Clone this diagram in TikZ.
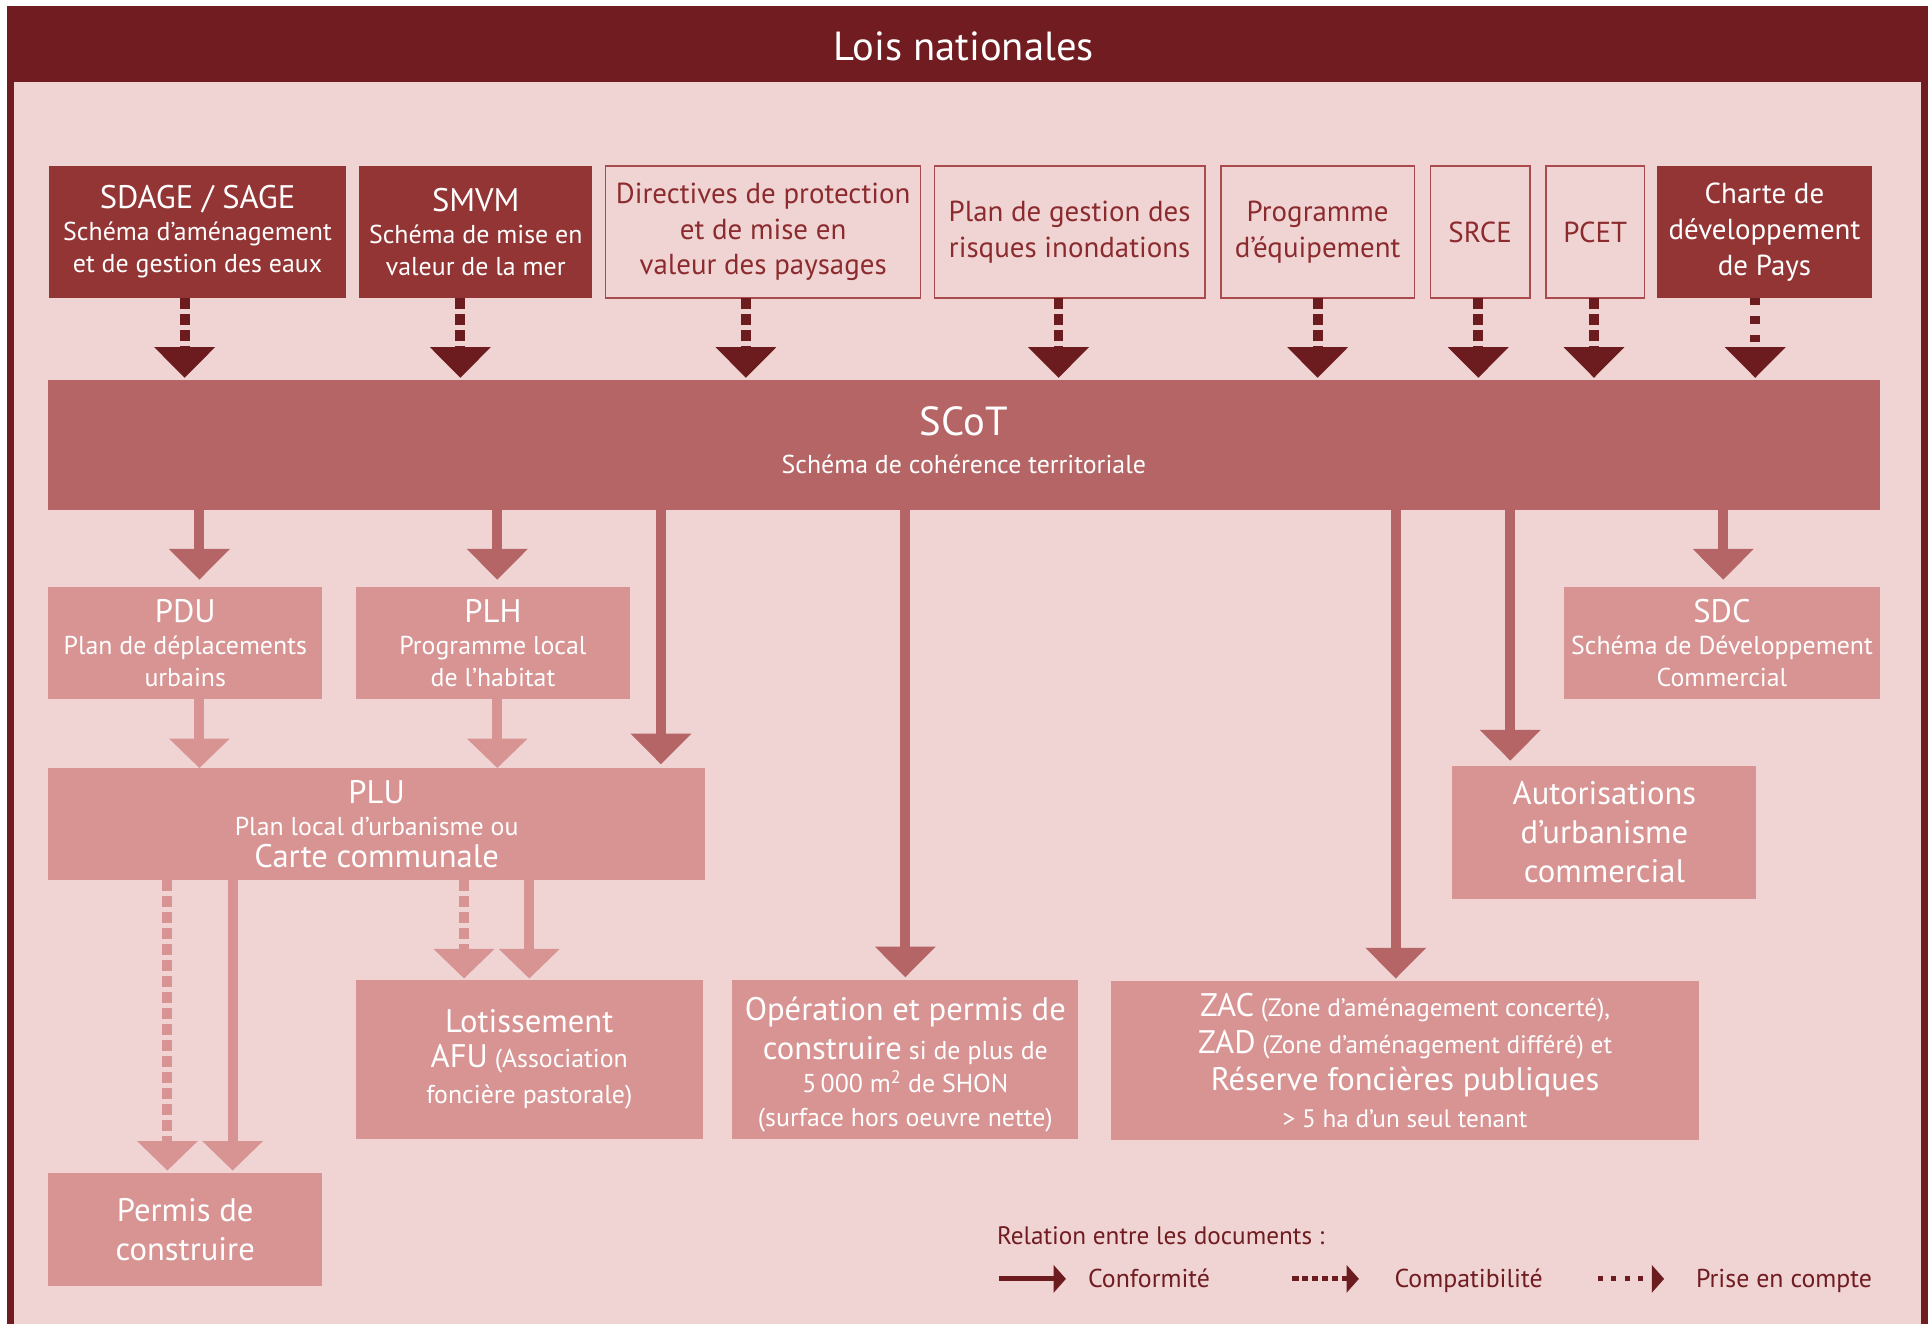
\documentclass[tikz,border=0pt]{standalone}
\usepackage{fontspec}
\setmainfont{PT Sans}
\usetikzlibrary{arrows.meta}

\definecolor{cframe}{HTML}{701C20}
\definecolor{cdark}{HTML}{943535}
\definecolor{carrow}{HTML}{6C1B1E}
\definecolor{cscot}{HTML}{B56565}
\definecolor{clight}{HTML}{D89393}
\definecolor{cbg}{HTML}{F0D4D4}
\definecolor{cline}{HTML}{A84B4C}
\definecolor{ctext}{HTML}{8C2B2E}

\newcommand{\fs}[2]{\fontsize{#1}{#2}\selectfont}
\newcommand{\ttl}{\fs{26.5}{28}}

\tikzset{
  darkbox/.style={fill=cdark,text=white,font=\fs{21}{26}},
  linebox/.style={draw=cline,line width=1.2pt,fill=cbg,text=ctext,font=\fs{23.5}{29}},
  scotbox/.style={fill=cscot,text=white,font=\fs{21}{26}},
  lightbox/.style={fill=clight,text=white,font=\fs{21}{26}},
  legtxt/.style={text=cframe,font=\fs{21}{24},anchor=base west},
  compat/.style={draw=carrow,line width=8pt,dash pattern=on 9pt off 4pt,
    -{Triangle[width=48pt,length=25pt]},shorten >=2pt},
  prise/.style={draw=carrow,line width=8pt,dash pattern=on 6pt off 9pt,
    -{Triangle[width=48pt,length=25pt]},shorten >=2pt},
  confS/.style={draw=cscot,line width=8pt,-{Triangle[width=48pt,length=25pt]}},
  confL/.style={draw=clight,line width=8pt,-{Triangle[width=48pt,length=24pt]}},
  compL/.style={draw=clight,line width=8pt,dash pattern=on 9pt off 4pt,
    -{Triangle[width=48pt,length=24pt]}},
  legconf/.style={draw=carrow,line width=4pt,-{Triangle[width=22pt,length=10pt]}},
  legcompat/.style={draw=carrow,line width=4pt,dash pattern=on 5pt off 3pt,
    -{Triangle[width=22pt,length=10pt]}},
  legprise/.style={draw=carrow,line width=4pt,dash pattern=on 4pt off 7pt,
    -{Triangle[width=22pt,length=10pt]}}
}

\begin{document}
\begin{tikzpicture}[x=1pt,y=1pt,
  every node/.style={inner sep=0pt,outer sep=0pt,align=center}]
\useasboundingbox (0,0) rectangle (1568,1076);
% frame and header
\fill[cframe] (6,0) rectangle (1566,1071);
\fill[cbg] (11,0) rectangle (1561,1009);
\node[text=white,font=\fs{33}{36},anchor=base] (lois) at (783,1027) {Lois nationales};

% top row
\node[darkbox,minimum width=241,minimum height=107] (sdage) at (160.5,887.5)
  {{\ttl SDAGE / SAGE}\\Schéma d’aménagement\\et de gestion des eaux};
\node[darkbox,minimum width=189,minimum height=107] (smvm) at (386.5,887.5)
  {{\ttl SMVM}\\Schéma de mise en\\valeur de la mer};
\node[linebox,minimum width=256,minimum height=107] (dir) at (620,887.5)
  {Directives de protection\\et de mise en\\valeur des paysages};
\node[linebox,minimum width=220,minimum height=107] (pgri) at (869,887.5)
  {Plan de gestion des\\risques inondations};
\node[linebox,minimum width=157,minimum height=107] (prog) at (1070.5,887.5)
  {Programme\\d’équipement};
\node[linebox,minimum width=81,minimum height=107] (srce) at (1202.5,887.5) {SRCE};
\node[linebox,minimum width=80,minimum height=107] (pcet) at (1296,887.5) {PCET};
\node[darkbox,font=\fs{23.5}{29},minimum width=175,minimum height=107] (charte) at (1433.5,887.5)
  {Charte de\\développement\\de Pays};

% SCoT
\node[scotbox,minimum width=1488,minimum height=105] (scot) at (783,714.5)
  {{\fs{33}{34}SCoT}\\[5pt]Schéma de cohérence territoriale\rule[-8pt]{0pt}{8pt}};

% second row
\node[lightbox,minimum width=223,minimum height=91] (pdu) at (150.5,553.5)
  {{\ttl PDU}\\Plan de déplacements\\urbains};
\node[lightbox,minimum width=223,minimum height=91] (plh) at (400.5,553.5)
  {{\ttl PLH}\\Programme local\\de l’habitat};
\node[lightbox,minimum width=256,minimum height=91] (sdc) at (1399,553.5)
  {{\ttl SDC}\\Schéma de Développement\\Commercial};
\node[lightbox,minimum width=534,minimum height=91] (plu) at (306,406.5)
  {{\ttl PLU}\\Plan local d’urbanisme ou\\{\ttl Carte communale}};
\node[lightbox,font=\fs{26.5}{32},minimum width=247,minimum height=108] (autor) at (1303.5,400)
  {Autorisations\\d’urbanisme\\commercial};

% third row
\node[lightbox,font=\fs{21}{29},minimum width=282,minimum height=129] (lotis) at (430,215.5)
  {{\ttl Lotissement}\\{\ttl AFU} (Association\\foncière pastorale)};
\node[lightbox,font=\fs{21}{27.5},minimum width=281,minimum height=129] (oper) at (735.5,215.5)
  {\rule{0pt}{28pt}{\ttl Opération et permis de}\\[4pt]{\ttl construire} si de plus de\\5\,000 m\textsuperscript{2} de SHON\\(surface hors oeuvre nette)};
\node[lightbox,font=\fs{20.5}{30},minimum width=477,minimum height=129] (zac) at (1141.5,214.5)
  {{\ttl ZAC} (Zone d’aménagement concerté),\\{\ttl ZAD} (Zone d’aménagement différé) et\\{\ttl Réserve foncières publiques}\\> 5 ha d’un seul tenant};
\node[lightbox,font=\fs{26.5}{32},minimum width=223,minimum height=92] (permis) at (150.5,77)
  {Permis de\\construire};

% arrows top row -> SCoT
\draw[compat] ([xshift=-10.5pt]sdage.south) -- ([xshift=-10.5pt]sdage.south |- scot.north);
\draw[compat] ([xshift=-12.5pt]smvm.south) -- ([xshift=-12.5pt]smvm.south |- scot.north);
\draw[compat] ([xshift=-14pt]dir.south) -- ([xshift=-14pt]dir.south |- scot.north);
\draw[compat] ([xshift=-9pt]pgri.south) -- ([xshift=-9pt]pgri.south |- scot.north);
\draw[compat] (prog.south) -- (prog.south |- scot.north);
\draw[compat] ([xshift=-1.5pt]srce.south) -- ([xshift=-1.5pt]srce.south |- scot.north);
\draw[compat] ([xshift=-1pt]pcet.south) -- ([xshift=-1pt]pcet.south |- scot.north);
\draw[prise] ([xshift=-7.5pt]charte.south) -- ([xshift=-7.5pt]charte.south |- scot.north);

% arrows SCoT -> documents
\draw[confS,shorten >=6pt] ([xshift=11.5pt]pdu.north |- scot.south) -- ([xshift=11.5pt]pdu.north);
\draw[confS,shorten >=6pt] ([xshift=3.5pt]plh.north |- scot.south) -- ([xshift=3.5pt]plh.north);
\draw[confS,shorten >=3pt] ([xshift=231pt]plu.north |- scot.south) -- ([xshift=231pt]plu.north);
\draw[confS,shorten >=2pt] (oper.north |- scot.south) -- (oper.north);
\draw[confS,shorten >=2pt] ([xshift=-7.5pt]zac.north |- scot.south) -- ([xshift=-7.5pt]zac.north);
\draw[confS,shorten >=4pt] ([xshift=-76.5pt]autor.north |- scot.south) -- ([xshift=-76.5pt]autor.north);
\draw[confS,shorten >=6pt] ([xshift=1pt]sdc.north |- scot.south) -- ([xshift=1pt]sdc.north);

% arrows towards PLU and below
\draw[confL] ([xshift=11.5pt]pdu.south) -- ([xshift=11.5pt]pdu.south |- plu.north);
\draw[confL] ([xshift=3.5pt]plh.south) -- ([xshift=3.5pt]plh.south |- plu.north);
\draw[compL,shorten >=2pt] ([xshift=-14.5pt]permis.north |- plu.south) -- ([xshift=-14.5pt]permis.north);
\draw[confL,shorten >=2pt] ([xshift=38.5pt]permis.north |- plu.south) -- ([xshift=38.5pt]permis.north);
\draw[compL,shorten >=1pt] ([xshift=-53pt]lotis.north |- plu.south) -- ([xshift=-53pt]lotis.north);
\draw[confL,shorten >=1pt] (lotis.north |- plu.south) -- (lotis.north);

% legend
\node[legtxt,font=\fs{20.5}{22}] (legtitle) at (810,65) {Relation entre les documents :};
\node[legtxt] (lconf) at (884,30) {Conformité};
\node[legtxt] (lcompat) at (1133,30) {Compatibilité};
\node[legtxt] (lprise) at (1378,30) {Prise en compte};
\draw[legconf] ([xshift=-72pt,yshift=7pt]lconf.base west) -- ([xshift=-18pt,yshift=7pt]lconf.base west);
\draw[legcompat] ([xshift=-83pt,yshift=7pt]lcompat.base west) -- ([xshift=-29pt,yshift=7pt]lcompat.base west);
\draw[legprise] ([xshift=-80pt,yshift=7pt]lprise.base west) -- ([xshift=-26pt,yshift=7pt]lprise.base west);
\end{tikzpicture}
\end{document}
